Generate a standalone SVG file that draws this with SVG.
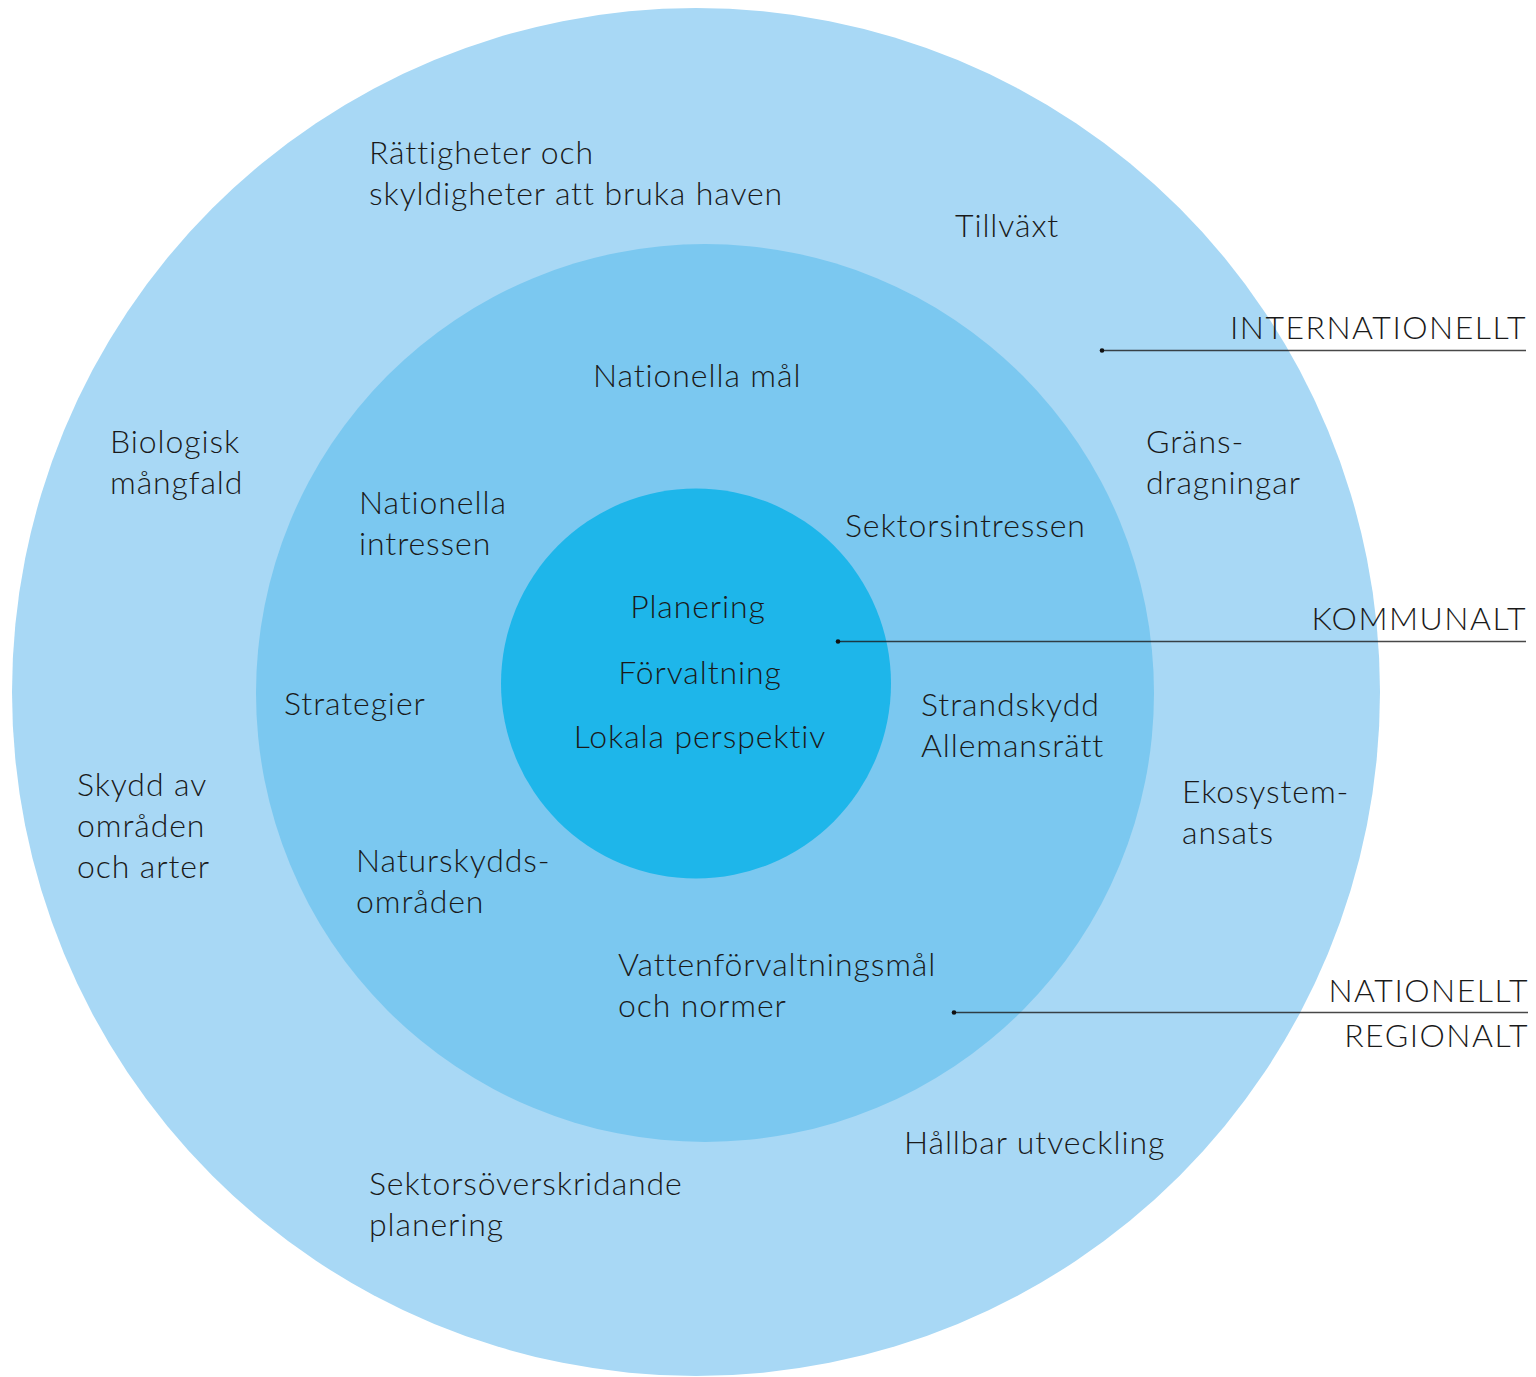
<svg xmlns="http://www.w3.org/2000/svg" width="1536" height="1377" viewBox="0 0 1536 1377">
<style>
text{font-family:Lato,"Liberation Sans",sans-serif;font-weight:300;font-size:32px;fill:#1a1a1a;letter-spacing:0.9px}
.r{text-anchor:end;letter-spacing:1.5px}
.c{text-anchor:middle}
.ln{stroke:#1a1a1a;stroke-opacity:0.8;stroke-width:1.3;fill:none}
.dot{fill:#111}
</style>
<rect width="1536" height="1377" fill="#ffffff"/>
<g id="ring-international"><circle cx="696" cy="692" r="684" fill="#a8d8f5"/></g>
<g id="ring-national"><circle cx="705" cy="693" r="449" fill="#7bc8f0"/></g>
<g id="ring-municipal"><circle cx="696" cy="683.5" r="195" fill="#1eb6ea"/></g>
<g id="connectors">
<line class="ln" x1="1102" y1="350.5" x2="1526" y2="350.5"/><circle class="dot" cx="1102" cy="350.5" r="2.3"/>
<line class="ln" x1="838" y1="641.5" x2="1526" y2="641.5"/><circle class="dot" cx="838" cy="641.5" r="2.3"/>
<line class="ln" x1="954" y1="1012.5" x2="1528" y2="1012.5"/><circle class="dot" cx="954" cy="1012.5" r="2.3"/>
</g>
<g id="outer-labels">
<text x="369" y="164">Rättigheter och</text>
<text x="369" y="205">skyldigheter att bruka haven</text>
<text x="955" y="237">Tillväxt</text>
<text x="110" y="453">Biologisk</text>
<text x="110" y="494">mångfald</text>
<text x="1146" y="453">Gräns-</text>
<text x="1146" y="494">dragningar</text>
<text x="77" y="796">Skydd av</text>
<text x="77" y="837">områden</text>
<text x="77" y="878">och arter</text>
<text x="1182" y="803">Ekosystem-</text>
<text x="1182" y="844">ansats</text>
<text x="904" y="1154">Hållbar utveckling</text>
<text x="369" y="1195">Sektorsöverskridande</text>
<text x="369" y="1236">planering</text>
</g>
<g id="middle-labels">
<text x="593" y="387">Nationella mål</text>
<text x="359" y="514">Nationella</text>
<text x="359" y="555">intressen</text>
<text x="845" y="537">Sektorsintressen</text>
<text x="284" y="715">Strategier</text>
<text x="921" y="716">Strandskydd</text>
<text x="921" y="757">Allemansrätt</text>
<text x="356" y="872">Naturskydds-</text>
<text x="356" y="913">områden</text>
<text x="618" y="976">Vattenförvaltningsmål</text>
<text x="618" y="1017">och normer</text>
</g>
<g id="inner-labels">
<text class="c" x="698" y="618">Planering</text>
<text class="c" x="700" y="684">Förvaltning</text>
<text class="c" x="700" y="748">Lokala perspektiv</text>
</g>
<g id="level-labels">
<text class="r" x="1527" y="339">INTERNATIONELLT</text>
<text class="r" x="1527" y="630">KOMMUNALT</text>
<text class="r" x="1529" y="1002">NATIONELLT</text>
<text class="r" x="1529" y="1047">REGIONALT</text>
</g>
</svg>
